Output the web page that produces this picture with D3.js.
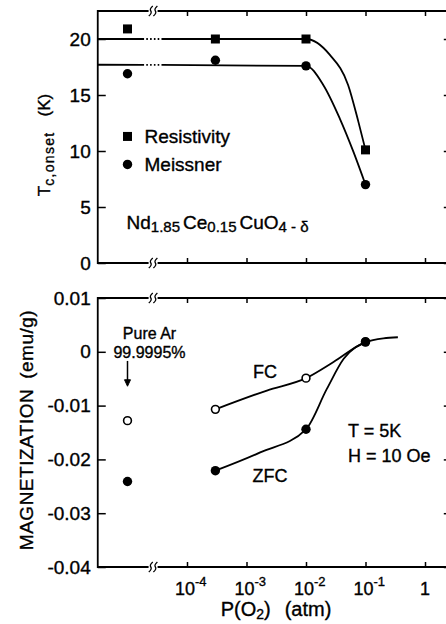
<!DOCTYPE html>
<html>
<head>
<meta charset="utf-8">
<script src="https://cdn.jsdelivr.net/npm/d3@7"></script>
<style>
  body { margin: 0; background: #fff; }
  svg { display: block; font-family: "Liberation Sans", Arial, sans-serif; }
  svg text { fill: #000; stroke: #000; stroke-width: 0.35px; }
</style>
</head>
<body>
<div id="chart"></div>
<script>
// O2 partial pressure (atm). The pure Ar samples sit left of the axis break at a nominal position.
var arP = 1e-5;
var pressures = [arP, 3e-4, 1e-2, 1e-1];
var decades = [1e-4, 1e-3, 1e-2, 1e-1, 1];
var decadeExponents = ['-4', '-3', '-2', '-1', ''];

// top panel: Tc onset (K)
var tcTicks = [0, 5, 10, 15, 20];
var tcResistivity = [20.9, 20.0, 20.0, 10.1];
var tcMeissner = [16.9, 18.1, 17.6, 7.0];
// hand-drawn guide curves
var resFitP = [Math.pow(10, -5.5), 1e-2, 0.025, 0.051, 0.076, 0.1];
var resFitT = [20, 20, 18.6, 15.9, 12.6, 10.1];
var meiFitP = [Math.pow(10, -5.5), 1e-2, 0.0195, 0.037, 0.063, 0.1];
var meiFitT = [17.7, 17.6, 15.9, 12.9, 9.9, 7.0];

// bottom panel: magnetization (emu/g)
var magTicks = [0.01, 0, -0.01, -0.02, -0.03, -0.04];
var magFC = [-0.0128, -0.0107, -0.0049, 0.0019];
var magZFC = [-0.0241, -0.0221, -0.0144, 0.0018];
var fcFitP = [3e-4, 2.2e-3, 1e-2, 0.029, 0.1, 0.2, 0.35];
var fcFitM = [-0.0107, -0.0072, -0.0049, -0.0019, 0.0018, 0.0025, 0.0027];
var zfcFitP = [3e-4, 1.7e-3, 1e-2, 0.0224, 0.043, 0.1];
var zfcFitM = [-0.0221, -0.0187, -0.0144, -0.0069, -0.0013, 0.0018];

var width = 446, height = 624;
var breakP = Math.pow(10, -4.57);

var x = d3.scaleLog().domain([Math.pow(10, -5.5), Math.pow(10, 0.4)]).range([97.75, 448.8]);
var yTc = d3.scaleLinear().domain([0, 22.5]).range([263, 11]);
var yMag = d3.scaleLinear().domain([-0.04, 0.01]).range([567, 298]);

var svg = d3.select('#chart').append('svg')
    .attr('width', width)
    .attr('height', height);

svg.append('rect').attr('width', width).attr('height', height).attr('fill', '#fff');

function clean(sel) {
  sel.attr('font-size', 19).attr('font-family', null);
  sel.select('.domain').remove();
  sel.selectAll('line').attr('stroke', '#000').attr('stroke-width', 1.5);
}

function breakMark(g, bx, yy) {
  g.append('rect')
      .attr('x', bx - 4.5).attr('y', yy - 2)
      .attr('width', 9).attr('height', 4)
      .attr('fill', '#fff');
  [-2.3, 2.3].forEach(function (o) {
    var cx = bx + o;
    g.append('path')
        .attr('d', 'M' + (cx - 2) + ',' + (yy + 5) + ' Q' + (cx + 1.5) + ',' + (yy + 2) + ' ' + cx + ',' + yy +
            ' T' + (cx + 2) + ',' + (yy - 5))
        .attr('fill', 'none')
        .attr('stroke', '#000')
        .attr('stroke-width', 1.3);
  });
}

function drawFrame(y, ticks, fmt) {
  var g = svg.append('g');
  var x0 = x.range()[0], x1 = x.range()[1];
  var yb = y.range()[0], yt = y.range()[1];

  g.append('path')
      .attr('d', 'M' + x1 + ',' + yt + 'H' + x0 + 'V' + yb + 'H' + x1 + 'V' + yt)
      .attr('fill', 'none')
      .attr('stroke', '#000')
      .attr('stroke-width', 1.8);

  g.append('g').attr('transform', 'translate(' + x0 + ',0)')
      .call(d3.axisLeft(y).tickValues(ticks).tickSize(-8).tickPadding(7).tickFormat(fmt))
      .call(clean);
  g.append('g').attr('transform', 'translate(' + x1 + ',0)')
      .call(d3.axisRight(y).tickValues(ticks).tickSize(-5).tickFormat(''))
      .call(clean);
  g.append('g').attr('transform', 'translate(0,' + yb + ')')
      .call(d3.axisBottom(x).tickValues(decades).tickSize(-5).tickFormat(''))
      .call(clean);
  g.append('g').attr('transform', 'translate(0,' + yt + ')')
      .call(d3.axisTop(x).tickValues(decades).tickSize(-5).tickFormat(''))
      .call(clean);

  breakMark(g, x(breakP), yt);
  breakMark(g, x(breakP), yb);
  return g;
}

// dotted stretch where the flat guide lines cross the axis break
function breakDash() {
  var arr = [x(breakP) - 9 - x.range()[0]];
  for (var i = 0; i < 4; i++) arr.push(2.2, 1.6);
  arr.push(2.2, 3000);
  return arr.join(',');
}

function fitPath(g, y, ps, vs, dashed) {
  var line = d3.line()
      .x(function (d) { return x(d[0]); })
      .y(function (d) { return y(d[1]); })
      .curve(d3.curveMonotoneX);
  g.append('path')
      .datum(d3.zip(ps, vs))
      .attr('d', line)
      .attr('fill', 'none')
      .attr('stroke', '#000')
      .attr('stroke-width', 1.8)
      .attr('stroke-dasharray', dashed ? breakDash() : null);
}

function squares(g, y, vals) {
  g.selectAll(null).data(d3.zip(pressures, vals)).enter()
      .append('rect')
      .attr('x', function (d) { return x(d[0]) - 4.5; })
      .attr('y', function (d) { return y(d[1]) - 4.5; })
      .attr('width', 9).attr('height', 9)
      .attr('fill', '#000');
}

function circles(g, y, vals, open) {
  g.selectAll(null).data(d3.zip(pressures, vals)).enter()
      .append('circle')
      .attr('cx', function (d) { return x(d[0]); })
      .attr('cy', function (d) { return y(d[1]); })
      .attr('r', open ? 3.9 : 4.7)
      .attr('fill', open ? '#fff' : '#000')
      .attr('stroke', '#000')
      .attr('stroke-width', open ? 1.6 : 0);
}

// ---- top panel
var topG = drawFrame(yTc, tcTicks, function (d) { return d; });
fitPath(topG, yTc, resFitP, resFitT, true);
fitPath(topG, yTc, meiFitP, meiFitT, true);
squares(topG, yTc, tcResistivity);
circles(topG, yTc, tcMeissner, false);

// legend
var lx = x(arP);
topG.append('rect').attr('x', lx - 4.5).attr('y', yTc(11.3) - 4.5).attr('width', 9).attr('height', 9).attr('fill', '#000');
topG.append('circle').attr('cx', lx).attr('cy', yTc(8.8)).attr('r', 4.7).attr('fill', '#000');
topG.append('text').attr('x', lx + 17).attr('y', yTc(11.3) + 7).attr('font-size', 19).text('Resistivity');
topG.append('text').attr('x', lx + 17).attr('y', yTc(8.8) + 7).attr('font-size', 19).text('Meissner');

var formula = topG.append('text').attr('x', lx - 1).attr('y', 229).attr('font-size', 19);
formula.append('tspan').text('Nd');
formula.append('tspan').attr('font-size', 15).attr('dy', 3).text('1.85');
formula.append('tspan').attr('dy', -3).attr('dx', 3).text('Ce');
formula.append('tspan').attr('font-size', 15).attr('dy', 3).text('0.15');
formula.append('tspan').attr('dy', -3).attr('dx', 3).text('CuO');
formula.append('tspan').attr('font-size', 15).attr('dy', 3).text('4 - δ');

var tcTitle = svg.append('text')
    .attr('transform', 'translate(50,145) rotate(-90)')
    .attr('text-anchor', 'middle')
    .attr('font-size', 17);
tcTitle.append('tspan').text('T');
tcTitle.append('tspan').attr('font-size', 14).attr('dy', 4).attr('letter-spacing', 1.3).text('c,onset');
tcTitle.append('tspan').attr('dy', -4).attr('dx', 15).text('(K)');

// ---- bottom panel
var botG = drawFrame(yMag, magTicks, function (d) { return d === 0 ? '0' : d.toFixed(2); });
fitPath(botG, yMag, fcFitP, fcFitM, false);
fitPath(botG, yMag, zfcFitP, zfcFitM, false);
circles(botG, yMag, magFC, true);
circles(botG, yMag, magZFC, false);

botG.append('text').attr('x', lx + 22).attr('y', yMag(0.0035) + 6).attr('text-anchor', 'middle').attr('font-size', 16).text('Pure Ar');
botG.append('text').attr('x', lx + 22).attr('y', yMag(-0.0001) + 6).attr('text-anchor', 'middle').attr('font-size', 16).text('99.9995%');
botG.append('line')
    .attr('x1', lx).attr('x2', lx)
    .attr('y1', yMag(-0.0017)).attr('y2', yMag(-0.0058))
    .attr('stroke', '#000').attr('stroke-width', 1.5);
botG.append('path')
    .attr('d', 'M' + (lx - 3) + ',' + (yMag(-0.0052)) + 'L' + lx + ',' + yMag(-0.0064) + 'L' + (lx + 3) + ',' + yMag(-0.0052) + 'Z')
    .attr('fill', '#000').attr('stroke', '#000').attr('stroke-width', 1);

botG.append('text').attr('x', 265).attr('y', 378).attr('text-anchor', 'middle').attr('font-size', 18).text('FC');
botG.append('text').attr('x', 270).attr('y', 482).attr('text-anchor', 'middle').attr('font-size', 18).text('ZFC');
botG.append('text').attr('x', 348).attr('y', 437).attr('font-size', 18).text('T = 5K');
botG.append('text').attr('x', 348).attr('y', 462).attr('font-size', 18).text('H = 10 Oe');

// x tick labels with exponents
var yLab = yMag.range()[0] + 28;
decades.forEach(function (d, i) {
  var t = botG.append('text').attr('y', yLab).attr('font-size', 18);
  if (decadeExponents[i]) {
    t.attr('x', x(d) - 12);
    t.append('tspan').text('10');
    t.append('tspan').attr('font-size', 13).attr('dy', -9).text(decadeExponents[i]);
  } else {
    t.attr('x', x(d)).attr('text-anchor', 'middle').text('1');
  }
});

var xTitle = svg.append('text').attr('x', 276).attr('y', 616).attr('text-anchor', 'middle').attr('font-size', 20);
xTitle.append('tspan').text('P(O');
xTitle.append('tspan').attr('font-size', 14).attr('dy', 3).text('2');
xTitle.append('tspan').attr('dy', -3).text(')');
xTitle.append('tspan').attr('dx', 14).text('(atm)');

var magTitle = svg.append('text')
    .attr('transform', 'translate(33,430) rotate(-90)')
    .attr('text-anchor', 'middle')
    .attr('font-size', 19)
    .attr('letter-spacing', 0.5);
magTitle.append('tspan').text('MAGNETIZATION');
magTitle.append('tspan').attr('dx', 10).text('(emu/g)');
</script>
</body>
</html>
